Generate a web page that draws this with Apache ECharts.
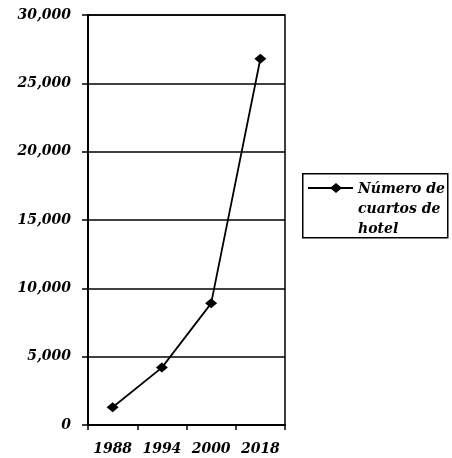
<!DOCTYPE html>
<html>
<head>
<meta charset="utf-8">
<script src="https://cdn.jsdelivr.net/npm/echarts@6/dist/echarts.min.js"></script>
<style>
  html, body { margin: 0; padding: 0; background: #fff; }
  #chart { width: 452px; height: 458px; }
</style>
</head>
<body>
<div id="chart"></div>
<script>
// Hotel rooms by year
const years = ['1988', '1994', '2000', '2018'];
const rooms = [1300, 4200, 8900, 26800];
const seriesName = 'Número de\ncuartos de\nhotel';
const yTicks = [0, 5000, 10000, 15000, 20000, 25000, 30000];

const FONT = '"DejaVu Serif", serif';

const chart = echarts.init(document.getElementById('chart'), null, { renderer: 'canvas' });

chart.setOption({
  animation: false,
  backgroundColor: '#fff',
  grid: {
    left: 88, right: 167, top: 15, bottom: 33,
    show: true, borderColor: '#000', borderWidth: 1.5, backgroundColor: 'transparent'
  },
  xAxis: {
    type: 'category',
    data: years,
    boundaryGap: true,
    axisLine: { lineStyle: { color: '#000', width: 2 } },
    axisTick: { show: true, alignWithLabel: false, interval: 0, length: 5, lineStyle: { color: '#000', width: 1.5 } },
    axisLabel: {
      interval: 0, margin: 17, color: '#000',
      fontFamily: FONT, fontStyle: 'italic', fontWeight: 'bold', fontSize: 14
    }
  },
  yAxis: {
    type: 'value',
    min: yTicks[0], max: yTicks[yTicks.length - 1], interval: yTicks[1] - yTicks[0],
    axisLine: { show: true, lineStyle: { color: '#000', width: 2 } },
    axisTick: { show: true, length: 6, lineStyle: { color: '#000', width: 1.5 } },
    splitLine: { show: true, lineStyle: { color: '#000', width: 1.5 } },
    axisLabel: {
      margin: 17, color: '#000',
      fontFamily: FONT, fontStyle: 'italic', fontWeight: 'bold', fontSize: 14,
      formatter: v => v.toLocaleString('en-US')
    }
  },
  series: [{
    name: seriesName,
    type: 'line',
    data: rooms,
    smooth: false,
    symbol: 'diamond',
    symbolSize: [12, 10],
    itemStyle: { color: '#000' },
    lineStyle: { color: '#000', width: 1.8 }
  }],
  graphic: [
    {
      type: 'rect', left: 302, top: 173,
      shape: { width: 145, height: 64 },
      style: { fill: '#fff', stroke: '#000', lineWidth: 1.5 }
    },
    {
      type: 'line',
      shape: { x1: 308, y1: 188, x2: 353, y2: 188 },
      style: { stroke: '#000', lineWidth: 1.8 }
    },
    {
      type: 'polygon',
      shape: { points: [[330, 188], [336, 183], [342, 188], [336, 193]] },
      style: { fill: '#000' }
    },
    {
      type: 'text', left: 358, top: 179,
      style: {
        text: seriesName, fill: '#000',
        font: 'italic bold 14px ' + FONT, lineHeight: 20
      }
    }
  ]
});
</script>
</body>
</html>
